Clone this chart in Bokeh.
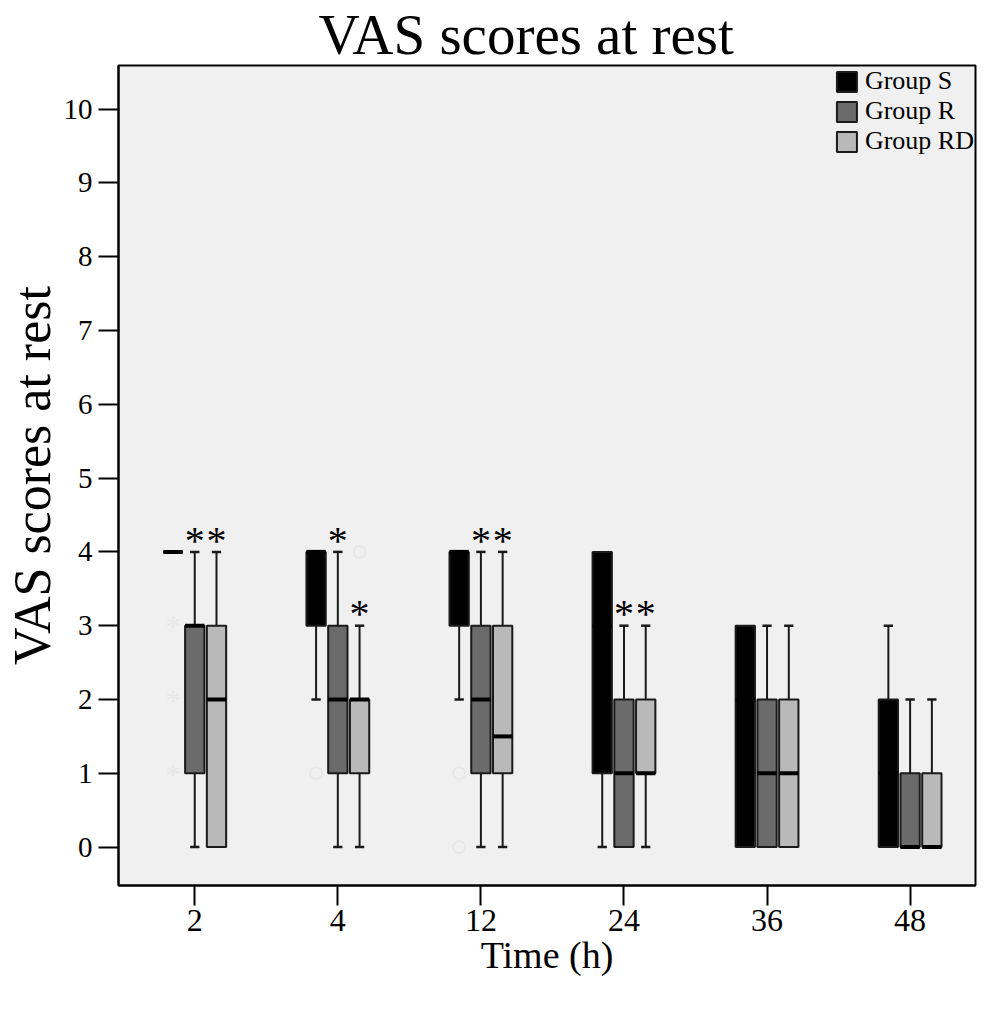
from bokeh.plotting import figure
from bokeh.models import ColumnDataSource, FixedTicker, Range1d, Legend, LegendItem
from bokeh.transform import dodge
from bokeh.core.properties import value
from bokeh.embed import file_html
from bokeh.resources import INLINE

# ---------------- data ----------------
times = ["2", "4", "12", "24", "36", "48"]
groups = ["Group S", "Group R", "Group RD"]

S_lo  = [4, 2, 2, 0, 0, 0]
S_q1  = [4, 3, 3, 1, 0, 0]
S_med = [4, 4, 4, 3, 2, 1]
S_q3  = [4, 4, 4, 4, 3, 2]
S_hi  = [4, 4, 4, 4, 3, 3]

R_lo  = [0, 0, 0, 0, 0, 0]
R_q1  = [1, 1, 1, 0, 0, 0]
R_med = [3, 2, 2, 1, 1, 0]
R_q3  = [3, 3, 3, 2, 2, 1]
R_hi  = [4, 4, 4, 3, 3, 2]

RD_lo  = [0, 0, 0, 0, 0, 0]
RD_q1  = [0, 1, 1, 1, 0, 0]
RD_med = [2, 2, 1.5, 1, 1, 0]
RD_q3  = [3, 2, 3, 2, 2, 1]
RD_hi  = [4, 3, 4, 3, 3, 2]

# significance asterisks (vs Group S)
R_sig  = [1, 1, 1, 1, 0, 0]
RD_sig = [1, 1, 1, 1, 0, 0]

# faint outliers: (time index, group, value, kind)
out_time  = [0, 0, 0, 1, 1, 2, 2]
out_group = ["Group S", "Group S", "Group S", "Group S", "Group RD", "Group S", "Group S"]
out_value = [3, 2, 1, 1, 4, 1, 0]
out_kind  = ["star", "star", "star", "circle", "circle", "circle", "circle"]

# ---------------- styling ----------------
FONT = "Liberation Serif"
colors = {"Group S": "#000000", "Group R": "#6b6b6b", "Group RD": "#b9b9b9"}
offsets = {"Group S": -0.152, "Group R": 0.0, "Group RD": 0.152}
BOX_W = 0.135
CAP_W = 0.065
EDGE = "#1a1a1a"
FAINT = "#e8e8e8"

p = figure(width=977, height=985, output_backend="svg", toolbar_location=None,
           x_range=Range1d(-0.533, 5.457), y_range=Range1d(-0.52, 10.59),
           min_border_left=110, min_border_right=2, min_border_top=58, min_border_bottom=100)

p.background_fill_color = "#f0f0f0"
p.border_fill_color = "white"
p.outline_line_color = "black"
p.outline_line_width = 2
p.xgrid.visible = False
p.ygrid.visible = False

p.title.text = "VAS scores at rest"
p.title.align = "left"
p.title.offset = 200
p.title.text_font = FONT
p.title.text_font_size = "57px"
p.title.text_font_style = "normal"
p.title.text_color = "black"
p.title.standoff = 0

for ax in (p.xaxis[0], p.yaxis[0]):
    ax.major_label_text_font = FONT
    ax.axis_label_text_font = FONT
    ax.axis_label_text_font_style = "normal"
    ax.axis_label_text_color = "black"
    ax.major_label_text_color = "black"
    ax.major_tick_out = 20
    ax.major_tick_in = 0
    ax.minor_tick_line_color = None
    ax.major_tick_line_width = 2
    ax.axis_line_width = 2
    ax.major_tick_line_color = "black"
    ax.axis_line_color = "black"

p.xaxis.ticker = FixedTicker(ticks=list(range(len(times))))
p.xaxis.major_label_overrides = {i: t for i, t in enumerate(times)}
p.xaxis.major_label_text_font_size = "32px"
p.xaxis.major_label_standoff = 4
p.xaxis.axis_label = "Time (h)"
p.xaxis.axis_label_text_font_size = "38px"
p.xaxis.axis_label_standoff = 0

p.yaxis.ticker = FixedTicker(ticks=list(range(0, 11)))
p.yaxis.major_label_text_font_size = "29px"
p.yaxis.major_label_standoff = 6
p.yaxis.axis_label = "VAS scores at rest"
p.yaxis.axis_label_text_font_size = "52px"
p.yaxis.axis_label_standoff = 0

stats = {
    "Group S": (S_lo, S_q1, S_med, S_q3, S_hi, None),
    "Group R": (R_lo, R_q1, R_med, R_q3, R_hi, R_sig),
    "Group RD": (RD_lo, RD_q1, RD_med, RD_q3, RD_hi, RD_sig),
}

box_renderers = {}
for g in groups:
    lo, q1, med, q3, hi, sig = stats[g]
    off = offsets[g]
    xs = list(range(len(times)))
    src = ColumnDataSource(dict(x=xs, lo=lo, q1=q1, med=med, q3=q3, hi=hi))

    up_idx = [i for i in xs if hi[i] > q3[i]]
    dn_idx = [i for i in xs if lo[i] < q1[i]]
    up = ColumnDataSource(dict(x=up_idx, a=[q3[i] for i in up_idx], b=[hi[i] for i in up_idx]))
    dn = ColumnDataSource(dict(x=dn_idx, a=[q1[i] for i in dn_idx], b=[lo[i] for i in dn_idx]))

    for s in (up, dn):
        p.segment(x0=dodge("x", off, range=p.x_range), x1=dodge("x", off, range=p.x_range),
                  y0="a", y1="b", source=s, line_color=EDGE, line_width=2)
        p.segment(x0=dodge("x", off - CAP_W / 2, range=p.x_range),
                  x1=dodge("x", off + CAP_W / 2, range=p.x_range),
                  y0="b", y1="b", source=s, line_color=EDGE, line_width=2.5)

    r = p.vbar(x=dodge("x", off, range=p.x_range), width=BOX_W, bottom="q1", top="q3",
               source=src, fill_color=colors[g], line_color=EDGE, line_width=2)
    box_renderers[g] = r

    p.segment(x0=dodge("x", off - BOX_W / 2, range=p.x_range),
              x1=dodge("x", off + BOX_W / 2, range=p.x_range),
              y0="med", y1="med", source=src, line_color="black", line_width=4)

    if sig is not None:
        sx = [i for i in xs if sig[i]]
        ssrc = ColumnDataSource(dict(x=sx, y=[hi[i] + 0.16 for i in sx], t=["*"] * len(sx)))
        p.text(x=dodge("x", off, range=p.x_range), y="y", text="t", source=ssrc,
               text_font=value(FONT), text_font_size="40px", text_align="center",
               text_baseline="middle", text_color="black")

# faint outliers
for kind in ("star", "circle"):
    idx = [i for i in range(len(out_time)) if out_kind[i] == kind]
    src = ColumnDataSource(dict(
        x=[out_time[i] + offsets[out_group[i]] for i in idx],
        y=[out_value[i] for i in idx],
        t=["*"] * len(idx)))
    if kind == "circle":
        p.scatter(x="x", y="y", source=src, marker="circle", size=12,
                  fill_color=None, line_color=FAINT, line_width=2)
    else:
        p.text(x="x", y="y", text="t", source=src, text_font=value(FONT),
               text_font_size="30px", text_align="center", text_baseline="middle",
               text_color=FAINT)

legend = Legend(items=[LegendItem(label=g, renderers=[box_renderers[g]]) for g in groups],
                location="top_right")
legend.label_text_font = FONT
legend.label_text_font_size = "26px"
legend.label_text_color = "black"
legend.glyph_width = 25
legend.glyph_height = 25
legend.label_height = 25
legend.spacing = 0
legend.padding = 9
legend.margin = 1
legend.label_standoff = 6
legend.border_line_color = None
legend.background_fill_alpha = 0
p.add_layout(legend)

open("out.html", "w").write(file_html(p, INLINE))
